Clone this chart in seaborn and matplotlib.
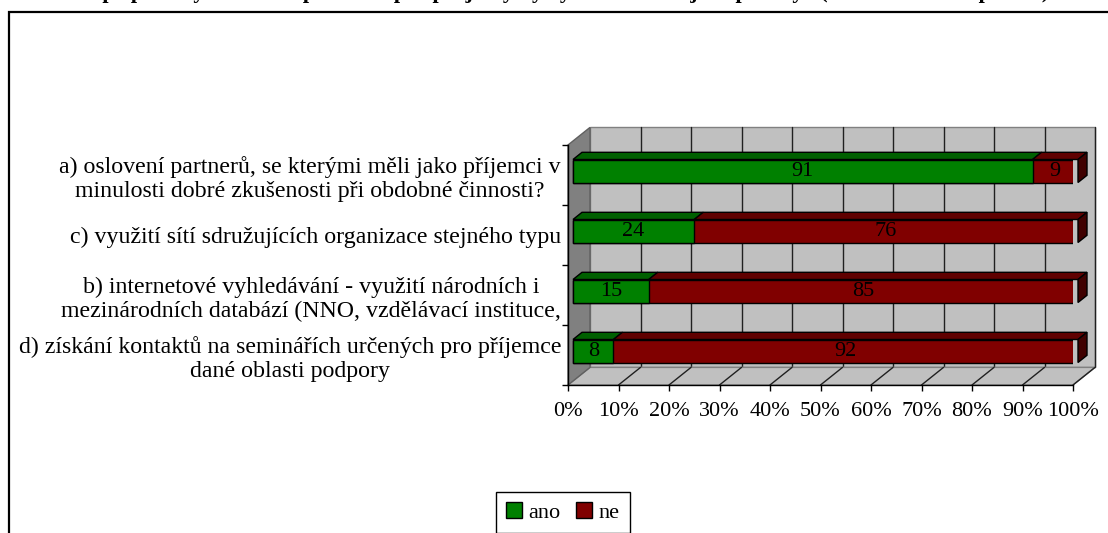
import seaborn as sns
import pandas as pd
import matplotlib
matplotlib.use("Agg")
from matplotlib import pyplot as plt
from matplotlib import transforms
from matplotlib.patches import Polygon, Patch, Rectangle

# data
categories = [
    "a) oslovení partnerů, se kterými měli jako příjemci v\nminulosti dobré zkušenosti při obdobné činnosti?",
    "c) využití sítí sdružujících organizace stejného typu",
    "b) internetové vyhledávání - využití národních i\nmezinárodních databází (NNO, vzdělávací instituce,",
    "d) získání kontaktů na seminářích určených pro příjemce\ndané oblasti podpory",
]
ano = [91, 24, 15, 8]
ne = [9, 76, 85, 92]
series = ["ano", "ne"]
ticks = [0, 10, 20, 30, 40, 50, 60, 70, 80, 90, 100]
title = "V případě vyhledávání partnerů pro projekty by využili následující způsoby? (možnost více odpovědí)"

green = "#008000"
red = "#800000"
green_top = "#006000"
red_top = "#600000"
red_side = "#400000"

sns.set_style("white")
plt.rcParams["font.family"] = ["Liberation Serif", "DejaVu Serif"]
plt.rcParams["text.color"] = "black"
plt.rcParams["xtick.color"] = "black"
plt.rcParams["ytick.color"] = "black"
FS_Y = 17.2
FS = 16

W, H = 1108, 533
fig = plt.figure(figsize=(W / 100, H / 100), dpi=100)
# axes = front plane of the 3D box
L, R, T, B = 568, 1073, 145, 385
ax = fig.add_axes([L / W, (H - B) / H, (R - L) / W, (B - T) / H])
ax.patch.set_visible(False)

df = pd.DataFrame({"cat": categories, "ano": ano, "ne": ne})
df["total"] = df["ano"] + df["ne"]

bw = 23 / 60
sns.barplot(data=df, x="total", y="cat", color=red, orient="h", width=bw,
            edgecolor="black", linewidth=1, saturation=1, ax=ax, zorder=3)
sns.barplot(data=df, x="ano", y="cat", color=green, orient="h", width=bw,
            edgecolor="black", linewidth=1, saturation=1, ax=ax, zorder=3)
ax.set_xlim(0, 100)
ax.set_ylim(3.5, -0.5)
ax.set_xlabel("")
ax.set_ylabel("")

# pixel -> data helpers for the fake depth
PXX = 100 / (R - L)
PXY = 4 / (B - T)


def sh(x, y, d):
    return (x + d * PXX, y - 0.8 * d * PXY)


DW = 22   # wall depth
D0, D1 = 5, 14  # bar depth

kw = dict(clip_on=False, linewidth=1)
# back wall
ax.add_patch(Polygon([sh(0, -0.5, DW), sh(100, -0.5, DW), sh(100, 3.5, DW), sh(0, 3.5, DW)],
                     facecolor="#C0C0C0", edgecolor="#808080", zorder=0.2, **kw))
for t in ticks[1:]:
    ax.plot(*zip(sh(t, -0.5, DW), sh(t, 3.5, DW)), color="#202020", lw=1, zorder=0.3, clip_on=False)
# side wall
ax.add_patch(Polygon([sh(0, -0.5, 0), sh(0, -0.5, DW), sh(0, 3.5, DW), sh(0, 3.5, 0)],
                     facecolor="#808080", edgecolor="#606060", zorder=0.4, **kw))
# floor
ax.add_patch(Polygon([sh(0, 3.5, 0), sh(100, 3.5, 0), sh(100, 3.5, DW), sh(0, 3.5, DW)],
                     facecolor="#C0C0C0", edgecolor="#808080", zorder=0.35, **kw))
for t in ticks[1:]:
    ax.plot(*zip(sh(t, 3.5, 0), sh(t, 3.5, DW)), color="#202020", lw=1, zorder=0.5, clip_on=False)

# shift bar fronts to their depth
off = transforms.offset_copy(ax.transData, fig=fig, x=D0, y=0.8 * D0, units="dots")
for p in ax.patches:
    if p.get_zorder() == 3:
        p.set_transform(off)

for i in range(len(categories)):
    yt = i - bw / 2
    yb = i + bw / 2
    segs = [(0, ano[i], green_top), (ano[i], ano[i] + ne[i], red_top)]
    for x0, x1, c in segs:
        ax.add_patch(Polygon([sh(x0, yt, D0), sh(x1, yt, D0), sh(x1, yt, D1), sh(x0, yt, D1)],
                             facecolor=c, edgecolor="black", zorder=3.1, **kw))
    xe = ano[i] + ne[i]
    ax.add_patch(Polygon([sh(xe, yt, D0), sh(xe, yt, D1), sh(xe, yb, D1), sh(xe, yb, D0)],
                         facecolor=red_side, edgecolor="black", zorder=3.1, **kw))
    ax.text(ano[i] / 2, i, str(ano[i]), ha="center", va="center", fontsize=FS,
            transform=off, zorder=4)
    ax.text(ano[i] + ne[i] / 2, i, str(ne[i]), ha="center", va="center", fontsize=FS,
            transform=off, zorder=4)

# axes styling
for s in ["top", "right"]:
    ax.spines[s].set_visible(False)
for s in ["left", "bottom"]:
    ax.spines[s].set_color("black")
    ax.spines[s].set_linewidth(1)
ax.set_xticks(ticks)
ax.set_xticklabels([f"{t}%" for t in ticks], fontsize=FS)
ax.tick_params(axis="x", direction="out", length=4.5, width=1, color="black", pad=8, bottom=True)
ax.set_yticks(range(len(categories)))
ax.set_yticklabels(categories, fontsize=FS_Y, multialignment="center", linespacing=1.22)
ax.set_yticks([-0.5, 0.5, 1.5, 2.5, 3.5], minor=True)
ax.tick_params(axis="y", which="major", length=0, pad=5, left=True)
ax.tick_params(axis="y", which="minor", direction="out", length=4.5, width=1, color="black", left=True)

# legend
handles = [Patch(facecolor=green, edgecolor="black"), Patch(facecolor=red, edgecolor="black")]
leg = fig.legend(handles, series, loc="upper center", bbox_to_anchor=(563 / W, 1 - 492 / H),
                 ncol=2, fontsize=FS, frameon=True, fancybox=False, framealpha=1,
                 edgecolor="black", handlelength=0.7, handleheight=0.7, handletextpad=0.3,
                 columnspacing=0.7, borderpad=0.45, borderaxespad=0)
leg.get_frame().set_linewidth(1)

# outer chart frame and clipped title
fig.add_artist(Rectangle((9 / W, -0.1), 1.2, 1 - 12 / H + 0.1, transform=fig.transFigure,
                         fill=False, edgecolor="black", linewidth=1.6))
fig.text(565 / W, 1 + 2 / H, title, ha="center", va="baseline", fontsize=FS, fontweight="bold")

fig.savefig("out.png", dpi=100)
